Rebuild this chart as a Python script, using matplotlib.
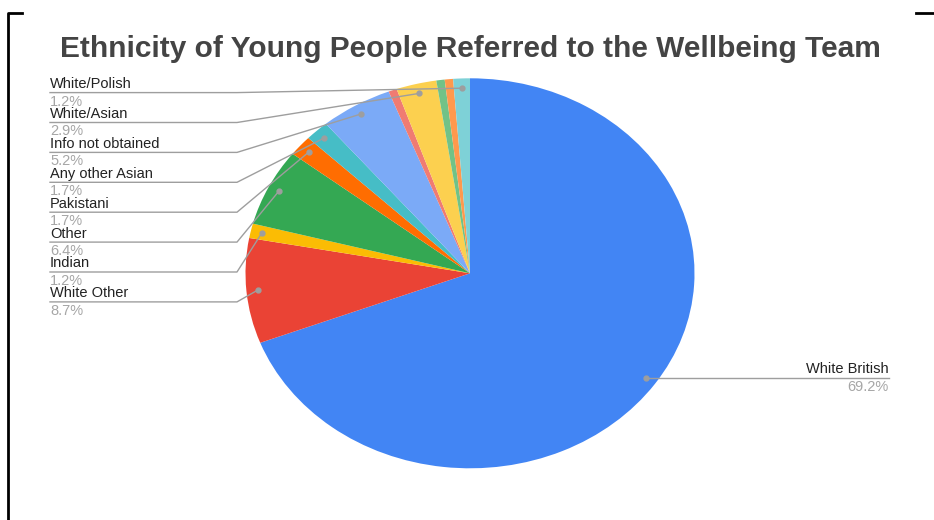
import numpy as np
import matplotlib
matplotlib.use("Agg")
import matplotlib.pyplot as plt

# Slices, clockwise from 12 o'clock
labels = ["White British", "White Other", "Indian", "Other", "Pakistani",
          "Any other Asian", "Info not obtained", "Mixed (other)", "White/Asian",
          "Black", "Chinese", "White/Polish"]
values = [69.2, 8.7, 1.2, 6.4, 1.7, 1.7, 5.2, 0.6, 2.9, 0.6, 0.6, 1.2]
colors = ["#4285F4", "#EA4335", "#FBBC04", "#34A853", "#FF6D01", "#46BDC6",
          "#7BAAF7", "#F07B72", "#FCD04F", "#71C287", "#FF994D", "#7ED1D7"]
# which slices get a label on the left side (small unnamed slices get none)
left_labels = ["White/Polish", "White/Asian", "Info not obtained", "Any other Asian",
               "Pakistani", "Other", "Indian", "White Other"]
title = "Ethnicity of Young People Referred to the Wellbeing Team"

W, H = 934, 520
CX, CY, RX, RY = 470.0, 273.3, 224.5, 195.0

fig = plt.figure(figsize=(W / 100, H / 100), dpi=100)
ax = fig.add_axes([0, 0, 1, 1])

wedges, _ = ax.pie(values, colors=colors, startangle=90, counterclock=False,
                   radius=1, wedgeprops=dict(linewidth=0))
ax.set_aspect("auto")
ax.set_xlim(-CX / RX, (W - CX) / RX)
ax.set_ylim((CY - H) / RY, CY / RY)
ax.axis("off")


def px(x, y):
    # screen pixels (from top-left) -> data coords
    return (x - CX) / RX, (CY - y) / RY


font = "Liberation Sans"
line_c = "#9e9e9e"
name_c = "#222222"
pct_c = "#a6a6a6"
fs = 10.5

# mid-angle of each slice
total = sum(values)
cum = np.cumsum([0] + values[:-1])
mids = {}
for lab, c0, v in zip(labels, cum, values):
    frac = (c0 + v / 2) / total
    ang = np.deg2rad(90 - 360 * frac)
    mids[lab] = (0.95 * np.cos(ang), 0.95 * np.sin(ang))

pct = dict(zip(labels, values))

# left labels
for i, lab in enumerate(left_labels):
    y_name = 84 + i * 29.9
    y_line = y_name + 8.6
    y_pct = y_name + 17.5
    ax.text(*px(50, y_name), lab, ha="left", va="center", fontsize=fs,
            color=name_c, family=font)
    ax.text(*px(50, y_pct), f"{pct[lab]:.1f}%", ha="left", va="center",
            fontsize=fs, color=pct_c, family=font)
    x0, y0 = px(50, y_line)
    x1, y1 = px(237, y_line)
    dx, dy = mids[lab]
    ax.plot([x0, x1, dx], [y0, y1, dy], color=line_c, lw=1)
    ax.plot(dx, dy, "o", color=line_c, ms=3.5)

# right label
lab = "White British"
dx, dy = mids[lab]
xe, _ = px(889, 0)
ax.plot([dx, xe], [dy, dy], color=line_c, lw=1)
ax.plot(dx, dy, "o", color=line_c, ms=3.5)
ly = CY - dy * RY
ax.text(*px(889, ly - 9), lab, ha="right", va="center", fontsize=fs,
        color=name_c, family=font)
ax.text(*px(889, ly + 8.5), f"{pct[lab]:.1f}%", ha="right", va="center",
        fontsize=fs, color=pct_c, family=font)

# title
fig.text(CX / W, 1 - 49 / H, title, ha="center", va="center", fontsize=21.5,
         fontweight="bold", color="#444444", family=font)

# screenshot frame corners
fig.add_artist(plt.Line2D([8 / W, 8 / W, 22 / W], [0, 1 - 13 / H, 1 - 13 / H],
                          color="black", lw=2))
fig.add_artist(plt.Line2D([916 / W, 1], [1 - 13 / H, 1 - 13 / H],
                          color="black", lw=2))

fig.savefig("out.png", dpi=100)
